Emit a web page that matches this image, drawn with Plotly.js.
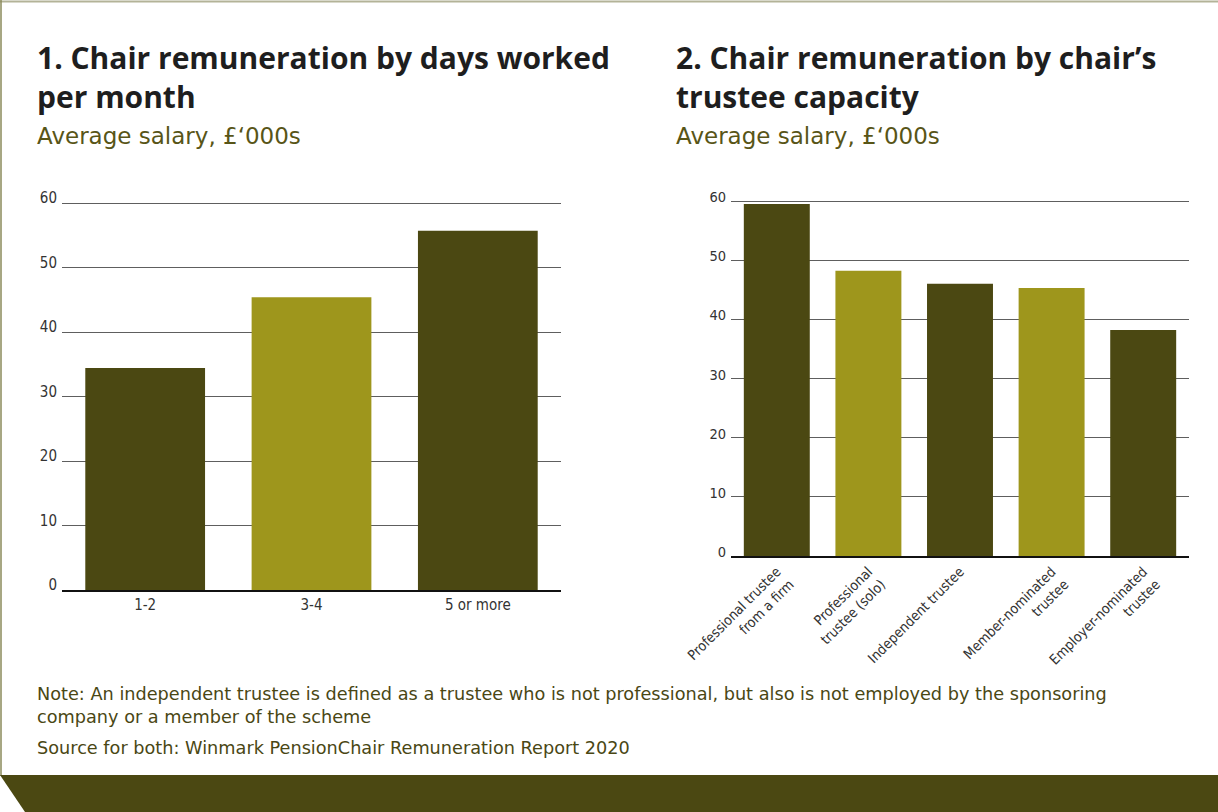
<!DOCTYPE html>
<html>
<head>
<meta charset="utf-8">
<script src="https://cdn.plot.ly/plotly-3.0.1.min.js"></script>
<style>html,body{margin:0;padding:0;background:#fff;}#chart{width:1218px;height:812px;}</style>
</head>
<body>
<div id="chart"></div>
<script>
// Chart 1: by days worked per month
const daysCategories = ["1-2", "3-4", "5 or more"];
const daysValues = [34.4, 45.4, 55.7];

// Chart 2: by chair's trustee capacity
const capacityCategories = [
  "Professional trustee<br>from a firm",
  "Professional<br>trustee (solo)",
  "Independent trustee",
  "Member-nominated<br>trustee",
  "Employer-nominated<br>trustee"
];
const capacityValues = [59.5, 48.2, 46.0, 45.3, 38.2];

const yTickVals = [0, 10, 20, 30, 40, 50, 60];

const DARK = "#4b4812";
const LIGHT = "#9e961c";
const colorsFor = n => Array.from({length: n}, (_, i) => i % 2 === 0 ? DARK : LIGHT);

const NARROW = "Liberation Sans Narrow, DejaVu Sans Condensed, sans-serif";
const MAIN = "Open Sans, Roboto, sans-serif";
const BODY = "DejaVu Sans, Open Sans, sans-serif";

const traces = [
  {type: "bar", x: daysCategories, y: daysValues, xaxis: "x", yaxis: "y",
   marker: {color: colorsFor(daysCategories.length), line: {width: 0}}, hoverinfo: "x+y"},
  {type: "bar", x: capacityCategories, y: capacityValues, xaxis: "x2", yaxis: "y2",
   marker: {color: colorsFor(capacityCategories.length), line: {width: 0}}, hoverinfo: "x+y"}
];

const H = 812, W = 1218;
// left plot: value 0 at y=590px, 60 at 203px; right: 0 at 556px, 60 at 201px
const TOPV = 61;
const leftTop = 590 - (590 - 203) * TOPV / 60;
const rightTop = 556 - (556 - 201) * TOPV / 60;

const yAxisBase = {
  range: [0, TOPV], tickvals: yTickVals, showgrid: true, gridcolor: "#5e5e5e", gridwidth: 1,
  zeroline: false, showline: false, ticks: "", fixedrange: true, automargin: false,
  ticklabelshift: -5, ticklabelstandoff: 4
};
const xAxisBase = {
  showline: true, linecolor: "#111", linewidth: 2, ticks: "", showgrid: false,
  tickfont: {family: NARROW, size: 15, color: "#333"}, automargin: false, fixedrange: true
};

const layout = {
  width: W, height: H,
  margin: {l: 0, r: 0, t: 0, b: 0},
  paper_bgcolor: "#fff", plot_bgcolor: "rgba(0,0,0,0)",
  showlegend: false, bargap: 0.28,
  xaxis: Object.assign({}, xAxisBase, {domain: [62/W, 561/W], anchor: "y"}),
  yaxis: Object.assign({}, yAxisBase, {domain: [1 - 590/H, 1 - leftTop/H], anchor: "x",
    tickfont: {family: NARROW, size: 15, color: "#333"}}),
  xaxis2: Object.assign({}, xAxisBase, {domain: [731/W, 1189/W], anchor: "y2", tickangle: -45,
    tickfont: {family: NARROW, size: 14, color: "#333"}}),
  yaxis2: Object.assign({}, yAxisBase, {domain: [1 - 556/H, 1 - rightTop/H], anchor: "x2",
    tickfont: {family: NARROW, size: 14.5, color: "#333"}, ticklabelshift: -4}),
  shapes: [
    {type: "line", xref: "paper", yref: "paper", x0: 0, x1: 1, y0: 1 - 1.5/H, y1: 1 - 1.5/H, line: {color: "#b3b398", width: 2}},
    {type: "line", xref: "paper", yref: "paper", x0: 1/W, x1: 1/W, y0: 1, y1: 1 - 776/H, line: {color: "#8a8a5a", width: 1.5}},
    {type: "path", xref: "paper", yref: "paper",
     path: `M 0 ${1 - 775/H} L 1 ${1 - 775/H} L 1 0 L ${25/W} 0 Z`,
     fillcolor: DARK, line: {width: 0}}
  ],
  annotations: [
    {text: "<b>1. Chair remuneration by days worked<br>per month</b>", xref: "paper", yref: "paper",
     x: 35/W, y: 1 - 35/H, xanchor: "left", yanchor: "top", align: "left", showarrow: false,
     font: {family: MAIN, size: 30, color: "#1e1e1e"}},
    {text: "Average salary, £‘000s", xref: "paper", yref: "paper",
     x: 35/W, y: 1 - 121/H, xanchor: "left", yanchor: "top", align: "left", showarrow: false,
     font: {family: BODY, size: 23, color: "#585517"}},
    {text: "<b>2. Chair remuneration by chair’s<br>trustee capacity</b>", xref: "paper", yref: "paper",
     x: 674/W, y: 1 - 35/H, xanchor: "left", yanchor: "top", align: "left", showarrow: false,
     font: {family: MAIN, size: 30, color: "#1e1e1e"}},
    {text: "Average salary, £‘000s", xref: "paper", yref: "paper",
     x: 674/W, y: 1 - 121/H, xanchor: "left", yanchor: "top", align: "left", showarrow: false,
     font: {family: BODY, size: 23, color: "#585517"}},
    {text: "Note: An independent trustee is defined as a trustee who is not professional, but also is not employed by the sponsoring<br>company or a member of the scheme",
     xref: "paper", yref: "paper", x: 35/W, y: 1 - 682/H, xanchor: "left", yanchor: "top", align: "left", showarrow: false,
     font: {family: BODY, size: 17.7, color: "#4a4714"}},
    {text: "Source for both: Winmark PensionChair Remuneration Report 2020",
     xref: "paper", yref: "paper", x: 35/W, y: 1 - 736/H, xanchor: "left", yanchor: "top", align: "left", showarrow: false,
     font: {family: BODY, size: 17.7, color: "#4a4714"}}
  ]
};

Plotly.newPlot("chart", traces, layout, {displayModeBar: false, staticPlot: true});
</script>
</body>
</html>
